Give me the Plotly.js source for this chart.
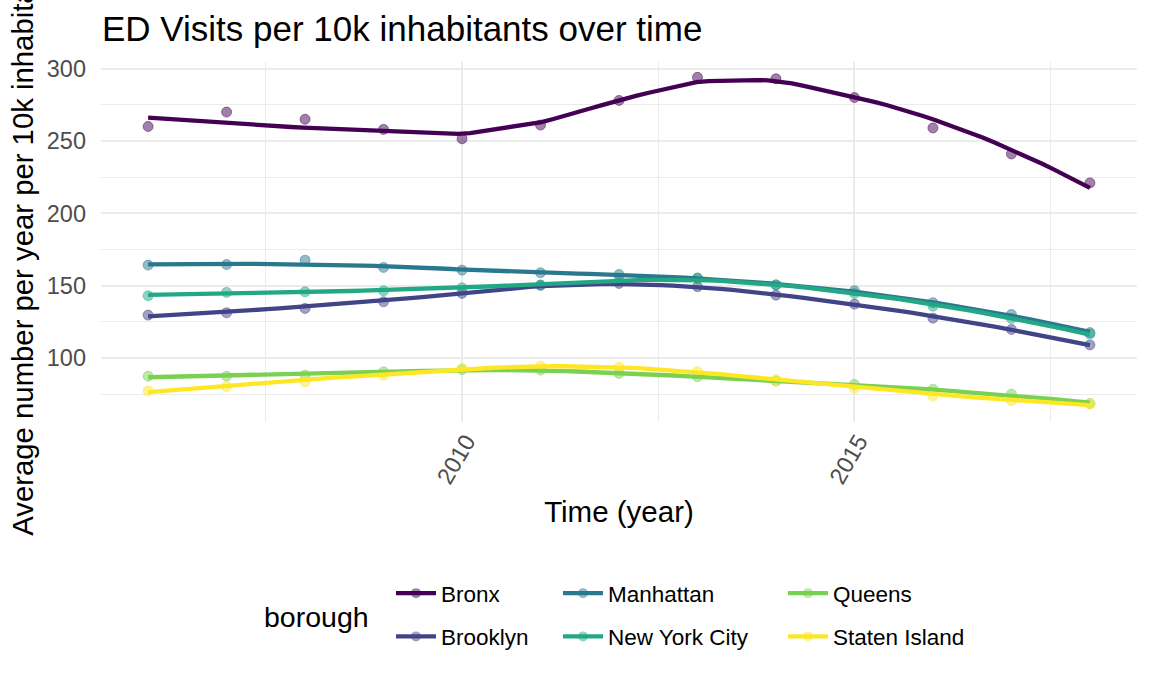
<!DOCTYPE html>
<html>
<head>
<meta charset="utf-8">
<script src="https://cdn.plot.ly/plotly-3.0.1.min.js"></script>
<style>html,body{margin:0;padding:0;background:#fff;}#chart{width:1152px;height:691px;}</style>
</head>
<body>
<div id="chart"></div>
<script>
// ---- data ----
const years = [2006, 2007, 2008, 2009, 2010, 2011, 2012, 2013, 2014, 2015, 2016, 2017, 2018];
const bronx = [260, 270, 265, 258, 251.5, 261, 278, 294, 293, 280, 259, 241, 221];
const brooklyn = [129.6, 131.2, 134.2, 138.8, 144.6, 150.3, 151.5, 149.2, 143.4, 137.2, 127.5, 119.7, 109];
const manhattan = [164.2, 164.6, 167.6, 162.6, 160.7, 158.9, 157.7, 155.3, 150.5, 146.5, 138.2, 130, 117.5];
const nyc = [143, 145.3, 145.7, 146.4, 148.5, 150.3, 153.8, 155, 150.5, 144.6, 135.8, 127.3, 116.5];
const queens = [87.4, 87.4, 88.1, 90.4, 92, 91.6, 89.3, 87, 84, 81.7, 78.4, 75, 68.5];
const statenIsland = [77.3, 80.1, 83.5, 88.1, 92.7, 94.4, 93.5, 90.5, 85, 79, 73.8, 70.5, 68];
const boroughNames = ["Bronx", "Brooklyn", "Manhattan", "New York City", "Queens", "Staten Island"];
const boroughValues = [bronx, brooklyn, manhattan, nyc, queens, statenIsland];
const colors = ["#440154", "#414487", "#2A788E", "#22A884", "#7AD151", "#FDE725"];
const legendColumns = [["Bronx", "Brooklyn"], ["Manhattan", "New York City"], ["Queens", "Staten Island"]];
const xTickVals = [2010, 2015];
const yTickVals = [100, 150, 200, 250, 300];

// ---- loess smoother (span 0.75, degree 2, tricube) like geom_smooth ----
function loess(xs, ys, span, xout) {
  const n = xs.length;
  const q = Math.floor(n * span);
  return xout.map(x0 => {
    const d = xs.map(x => Math.abs(x - x0));
    const h = d.slice().sort((a, b) => a - b)[q - 1];
    let S = [[0,0,0],[0,0,0],[0,0,0]], B = [0,0,0];
    for (let i = 0; i < n; i++) {
      const u = d[i] / h;
      const w = u < 1 ? Math.pow(1 - u*u*u, 3) : 0;
      if (w <= 0) continue;
      const t = xs[i] - x0;
      const v = [1, t, t*t];
      for (let r = 0; r < 3; r++) {
        B[r] += w * v[r] * ys[i];
        for (let c = 0; c < 3; c++) S[r][c] += w * v[r] * v[c];
      }
    }
    const det = m => m[0][0]*(m[1][1]*m[2][2]-m[1][2]*m[2][1]) - m[0][1]*(m[1][0]*m[2][2]-m[1][2]*m[2][0]) + m[0][2]*(m[1][0]*m[2][1]-m[1][1]*m[2][0]);
    const D = det(S);
    const M0 = [[B[0], S[0][1], S[0][2]], [B[1], S[1][1], S[1][2]], [B[2], S[2][1], S[2][2]]];
    return det(M0) / D;
  });
}
function hexA(hex, a) {
  const r = parseInt(hex.slice(1,3),16), g = parseInt(hex.slice(3,5),16), b = parseInt(hex.slice(5,7),16);
  return `rgba(${r},${g},${b},${a})`;
}

const nOut = 80;
const xMin = Math.min(...years), xMax = Math.max(...years);
const xGrid = Array.from({length: nOut}, (_, i) => xMin + (xMax - xMin) * i / (nOut - 1));

const traces = [];
boroughNames.forEach((name, k) => {
  traces.push({
    type: 'scatter', mode: 'markers', x: years, y: boroughValues[k],
    marker: {color: hexA(colors[k], 0.5), size: 10, line: {color: hexA(colors[k], 0.6), width: 0.8}},
    showlegend: false, hoverinfo: 'skip', legendgroup: name
  });
});
boroughNames.forEach((name, k) => {
  traces.push({
    type: 'scatter', mode: 'lines', x: xGrid, y: loess(years, boroughValues[k], 0.75, xGrid),
    line: {color: colors[k], width: 4.3, shape: 'linear'},
    showlegend: false, name: name, legendgroup: name
  });
});
const legendIds = ['legend', 'legend2', 'legend3'];
legendColumns.forEach((col, ci) => {
  col.forEach(name => {
    const k = boroughNames.indexOf(name);
    traces.push({
      type: 'scatter', mode: 'lines+markers', x: [null], y: [null], name: name,
      legend: legendIds[ci], legendgroup: name,
      line: {color: colors[k], width: 4.3},
      marker: {color: hexA(colors[k], 0.5), size: 10}
    });
  });
});

const FONT = '"Liberation Sans", Arial, Helvetica, sans-serif';
const W = 1152, H = 691;
const L = 101, R = 15, T = 62, Bm = 269;
const pw = W - L - R, ph = H - T - Bm;
const px2x = p => (p - L) / pw;
const py2y = p => (H - Bm - p) / ph;

const legendBase = {
  orientation: 'v', xanchor: 'left', yanchor: 'top', bgcolor: 'rgba(0,0,0,0)', itemwidth: 40,
  font: {family: FONT, size: 22.5, color: '#000'}, tracegroupgap: 11, itemclick: false, itemdoubleclick: false
};

const layout = {
  width: W, height: H,
  margin: {l: L, r: R, t: T, b: Bm, pad: 0},
  paper_bgcolor: '#fff', plot_bgcolor: '#fff',
  font: {family: FONT},
  title: {text: 'ED Visits per 10k inhabitants over time', x: px2x(102), xref: 'paper', xanchor: 'left',
          y: 1 - 29/H, yref: 'container', yanchor: 'middle', font: {family: FONT, size: 35, color: '#000'}},
  xaxis: {
    range: [2005.4, 2018.6], tickvals: xTickVals, ticktext: xTickVals.map(String), tickangle: -60,
    showgrid: true, gridcolor: '#ebebeb', gridwidth: 2, zeroline: false, showline: false, ticks: '',
    tickfont: {family: FONT, size: 23.5, color: '#4d4d4d'}, ticklabelshift: 4,
    minor: {tickvals: [2007.5, 2012.5, 2017.5], showgrid: true, gridcolor: '#ebebeb', gridwidth: 1, ticks: ''},
    title: {text: 'Time (year)', font: {family: FONT, size: 29.5, color: '#000'}, standoff: 13},
    automargin: false
  },
  yaxis: {
    range: [55.7, 304.6], tickvals: yTickVals, ticktext: yTickVals.map(String),
    showgrid: true, gridcolor: '#ebebeb', gridwidth: 2, zeroline: false, showline: false, ticks: '',
    tickfont: {family: FONT, size: 23.5, color: '#4d4d4d'}, ticklabelstandoff: 14,
    minor: {tickvals: [75, 125, 175, 225, 275], showgrid: true, gridcolor: '#ebebeb', gridwidth: 1, ticks: ''},
    title: {text: 'Average number per year per 10k inhabitants', font: {family: FONT, size: 29.3, color: '#000'}, standoff: 4},
    automargin: false
  },
  legend: Object.assign({}, legendBase, {x: px2x(391), y: py2y(572)}),
  legend2: Object.assign({}, legendBase, {x: px2x(558), y: py2y(572)}),
  legend3: Object.assign({}, legendBase, {x: px2x(783), y: py2y(572)}),
  annotations: [{
    text: 'borough', xref: 'paper', yref: 'paper', x: px2x(262), y: py2y(617),
    xanchor: 'left', yanchor: 'middle', showarrow: false, font: {family: FONT, size: 28.5, color: '#000'}
  }],
  showlegend: true
};

Plotly.newPlot('chart', traces, layout, {staticPlot: true, displayModeBar: false});
</script>
</body>
</html>
